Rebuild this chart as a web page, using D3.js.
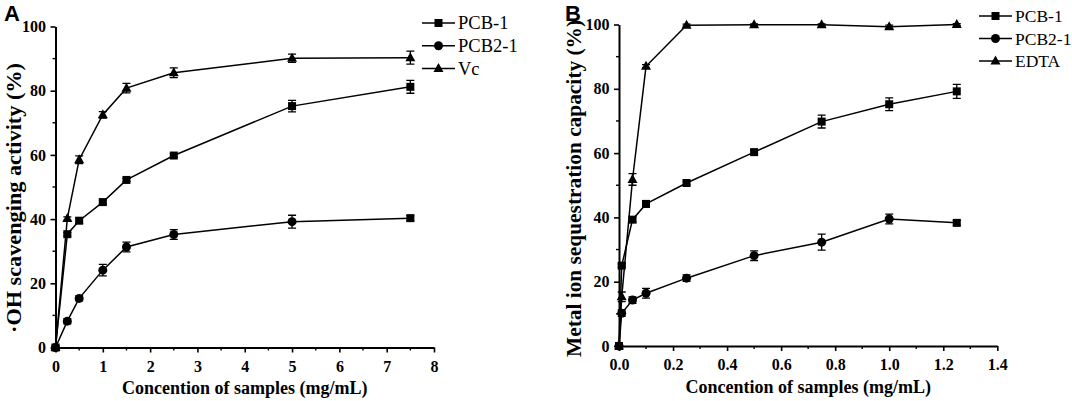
<!DOCTYPE html>
<html><head><meta charset="utf-8">
<script src="https://cdn.jsdelivr.net/npm/d3@7"></script>
<style>body{margin:0;background:#fff}svg{display:block}</style>
</head><body>
<svg id="c" width="1072" height="401"></svg>
<script>
// Panel A data
const xA = [0, 0.25, 0.5, 1, 1.5, 2.5, 5, 7.5];
const pcb1A = [0, 35.3, 39.5, 45.3, 52.2, 59.8, 75.2, 81.2];
const pcb1AErr = [0, 0.5, 0.8, 0.6, 0.5, 0.6, 1.8, 2.0];
const pcb21A = [0, 8.2, 15.3, 24.1, 31.3, 35.2, 39.2, 40.3];
const pcb21AErr = [0, 0.8, 0.8, 1.8, 1.5, 1.5, 2.0, 0.8];
const vcA = [0, 40.2, 58.5, 72.5, 80.8, 85.6, 90.1, 90.3];
const vcAErr = [0, 0.5, 1.2, 1.0, 1.5, 1.5, 1.3, 2.0];
const xTicksA = [0, 1, 2, 3, 4, 5, 6, 7, 8];
// Panel B data
const xB = [0, 0.01, 0.05, 0.1, 0.25, 0.5, 0.75, 1.0, 1.25];
const pcb1B = [0, 25.0, 39.3, 44.2, 50.7, 60.3, 69.8, 75.2, 79.2];
const pcb1BErr = [0, 0.5, 0.8, 1.0, 0.6, 0.6, 2.0, 2.0, 2.2];
const pcb21B = [0, 10.2, 14.3, 16.4, 21.1, 28.1, 32.3, 39.5, 38.3];
const pcb21BErr = [0, 1.0, 1.0, 1.5, 1.0, 1.5, 2.5, 1.5, 0.8];
const edtaB = [0, 15.3, 51.8, 87.0, 99.8, 99.9, 99.9, 99.3, 100];
const edtaBErr = [0, 1.5, 1.8, 0.5, 0.3, 0.3, 0.3, 0.5, 0.3];
const xTicksB = [0, 0.2, 0.4, 0.6, 0.8, 1.0, 1.2, 1.4];
const yTicks = [0, 20, 40, 60, 80, 100];

const svg = d3.select("#c");
const serif = "'Liberation Serif','Times New Roman',serif";

function marker(g, shape, x, y) {
  if (shape === "square") g.append("rect").attr("x", x-4).attr("y", y-4).attr("width", 8).attr("height", 8).attr("fill", "#000");
  else if (shape === "circle") g.append("circle").attr("cx", x).attr("cy", y).attr("r", 4.5).attr("fill", "#000");
  else g.append("path").attr("d", `M${x},${y-5.5}L${x+5},${y+3.5}L${x-5},${y+3.5}Z`).attr("fill", "#000");
}

function panel(o) {
  const g = svg.append("g");
  const x = d3.scaleLinear().domain(o.xDom).range(o.xRange);
  const y = d3.scaleLinear().domain([0, 100]).range(o.yRange);
  const xAxis = d3.axisBottom(x).tickValues(o.xTicks).tickFormat(o.fmt).tickSizeInner(5).tickSizeOuter(0);
  const gx = g.append("g").attr("transform", `translate(0,${o.yRange[0]})`).call(xAxis);
  const yAxis = d3.axisLeft(y).tickValues(yTicks).tickSizeInner(5).tickSizeOuter(0);
  const gy = g.append("g").attr("transform", `translate(${o.xRange[0]},0)`).call(yAxis);
  [gx, gy].forEach(a => {
    a.select(".domain").attr("stroke-width", 2);
    a.selectAll(".tick line").attr("stroke-width", 1.6);
    a.selectAll("text").attr("font-family", serif).attr("font-weight", "bold").attr("font-size", 16).attr("fill", "#000");
  });
  gx.selectAll("text").attr("dy", "1.0em");
  gy.selectAll("text").attr("dx", "-0.1em");
  const minorX = d3.range(o.xDom[0] + o.xMinor, o.xDom[1], o.xMinor * 2).map(v => +v.toFixed(4));
  g.selectAll(".mx").data(minorX).enter().append("line")
    .attr("x1", d => x(d)).attr("x2", d => x(d)).attr("y1", o.yRange[0]).attr("y2", o.yRange[0] + 3)
    .attr("stroke", "#000").attr("stroke-width", 1.4);
  g.selectAll(".my").data([10, 30, 50, 70, 90]).enter().append("line")
    .attr("x1", o.xRange[0]).attr("x2", o.xRange[0] - 3).attr("y1", d => y(d)).attr("y2", d => y(d))
    .attr("stroke", "#000").attr("stroke-width", 1.4);
  o.series.forEach(s => {
    const pts = o.xs.map((v, i) => [x(v), y(s.v[i])]);
    g.append("path").attr("d", d3.line()(pts))
      .attr("fill", "none").attr("stroke", "#000").attr("stroke-width", 1.5);
    pts.forEach((p, i) => {
      if (s.e[i] > 0) {
        const t = y(s.v[i] + s.e[i]), b = y(s.v[i] - s.e[i]);
        g.append("path").attr("d", `M${p[0]},${t}V${b}M${p[0]-4},${t}H${p[0]+4}M${p[0]-4},${b}H${p[0]+4}`)
          .attr("stroke", "#000").attr("stroke-width", 1.3).attr("fill", "none");
      }
      const shp = (s.lastShape && i === pts.length - 1) ? s.lastShape : s.shape;
      marker(g, shp, p[0], p[1]);
    });
  });
  o.series.forEach((s, i) => {
    const ly = o.legY + i * o.legDy;
    g.append("line").attr("x1", o.legX).attr("x2", o.legX + 33).attr("y1", ly).attr("y2", ly).attr("stroke", "#000").attr("stroke-width", 1.5);
    marker(g, s.shape, o.legX + 16.5, ly);
    g.append("text").attr("x", o.legX + 36).attr("y", ly).attr("dy", "0.35em")
      .attr("font-family", serif).attr("font-size", o.legFont).text(s.name);
  });
  g.append("text").attr("x", (o.xRange[0] + o.xRange[1]) / 2).attr("y", o.xTitleY)
    .attr("text-anchor", "middle").attr("font-family", serif).attr("font-weight", "bold").attr("font-size", 18).text(o.xTitle);
  g.append("text").attr("transform", `translate(${o.yTitleX},${o.yTitleC}) rotate(-90)`)
    .attr("text-anchor", "middle").attr("font-family", serif).attr("font-weight", "bold").attr("font-size", 20)
    .attr("textLength", o.yTitleLen).attr("lengthAdjust", "spacingAndGlyphs").text(o.yTitle);
  g.append("text").attr("x", o.letterX).attr("y", 21).attr("font-family", "'Liberation Sans',Arial,sans-serif")
    .attr("font-weight", "bold").attr("font-size", 22).text(o.letter);
}

panel({
  xDom: [0, 8], xRange: [55.5, 434], yRange: [347.5, 26.5], xTicks: xTicksA, fmt: d3.format("d"), xMinor: 0.5,
  xs: xA,
  series: [
    {name: "PCB-1", v: pcb1A, e: pcb1AErr, shape: "square"},
    {name: "PCB2-1", v: pcb21A, e: pcb21AErr, shape: "circle", lastShape: "square"},
    {name: "Vc", v: vcA, e: vcAErr, shape: "triangle"}
  ],
  legX: 422, legY: 23, legDy: 22.8, legFont: 18.5,
  xTitle: "Concention of samples (mg/mL)", xTitleY: 394,
  yTitle: "·OH scavenging activity (%)", yTitleX: 21, yTitleC: 198, yTitleLen: 270,
  letter: "A", letterX: 4
});

panel({
  xDom: [0, 1.4], xRange: [619, 997.3], yRange: [346, 24.5], xTicks: xTicksB, fmt: d3.format(".1f"), xMinor: 0.1,
  xs: xB,
  series: [
    {name: "PCB-1", v: pcb1B, e: pcb1BErr, shape: "square"},
    {name: "PCB2-1", v: pcb21B, e: pcb21BErr, shape: "circle", lastShape: "square"},
    {name: "EDTA", v: edtaB, e: edtaBErr, shape: "triangle"}
  ],
  legX: 979, legY: 16, legDy: 22.5, legFont: 17.5,
  xTitle: "Concention of samples (mg/mL)", xTitleY: 393,
  yTitle: "Metal ion sequestration capacity (%)", yTitleX: 581, yTitleC: 188.5, yTitleLen: 337,
  letter: "B", letterX: 565
});
</script>
</body></html>
